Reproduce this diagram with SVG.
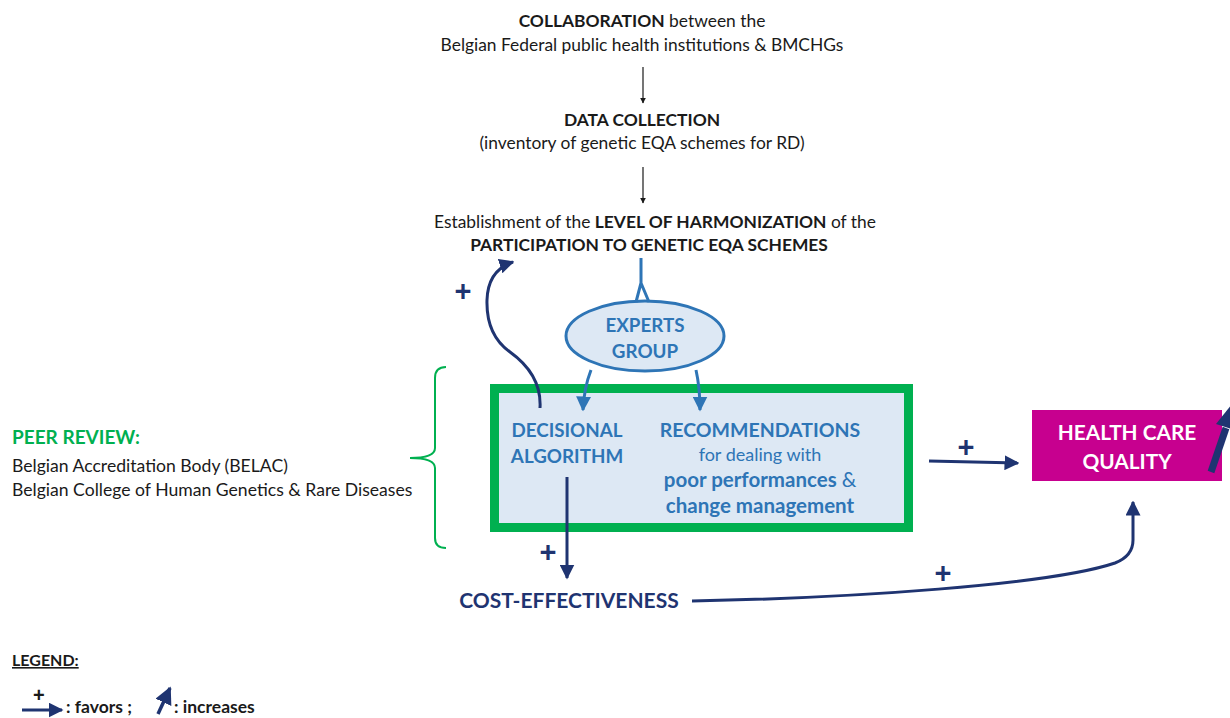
<svg xmlns="http://www.w3.org/2000/svg" width="1230" height="718" viewBox="0 0 1230 718">
<defs>
<style>
text{font-family:Lato,"Open Sans","Liberation Sans",sans-serif;}
.blk{fill:#1a1a1a;font-size:17.4px;}
.b{font-weight:bold;}
.blue{fill:#2e75b6;font-size:18.8px;font-weight:bold;}
.navy{fill:#1f3471;}
.plus{fill:#1f3471;font-size:29px;font-weight:bold;font-family:"Liberation Sans",Arial,sans-serif;}
.nv{stroke:#1f3471;stroke-width:3;fill:none;}
.bl{stroke:#2e75b6;stroke-width:3;fill:none;}
.thin{stroke:#1a1a1a;stroke-width:1.2;fill:none;}
</style>
<marker id="ah" viewBox="0 0 10 10" refX="9" refY="5" markerWidth="6" markerHeight="6" markerUnits="userSpaceOnUse" orient="auto"><path d="M0,0 L10,5 L0,10 z" fill="#1a1a1a"/></marker>
<marker id="an" viewBox="0 0 10 10" refX="9" refY="5" markerWidth="5" markerHeight="5" orient="auto"><path d="M0,0 L10,5 L0,10 z" fill="#1f3471"/></marker>
<marker id="ab" viewBox="0 0 10 10" refX="9" refY="5" markerWidth="5" markerHeight="5" orient="auto"><path d="M0,0 L10,5 L0,10 z" fill="#2e75b6"/></marker>
</defs>

<g id="collaboration">
<text class="blk" x="642" y="27" text-anchor="middle"><tspan class="b">COLLABORATION</tspan> between the</text>
<text class="blk" x="642" y="51" text-anchor="middle">Belgian Federal public health institutions &amp; BMCHGs</text>
</g>
<g id="data-collection">
<text class="blk b" x="642" y="126" text-anchor="middle">DATA COLLECTION</text>
<text class="blk" x="642" y="149" text-anchor="middle">(inventory of genetic EQA schemes for RD)</text>
</g>
<g id="harmonization">
<text class="blk" x="655" y="228" text-anchor="middle">Establishment of the <tspan class="b">LEVEL OF HARMONIZATION</tspan> of the</text>
<text class="blk b" x="649" y="251" text-anchor="middle">PARTICIPATION TO GENETIC EQA SCHEMES</text>
</g>
<g id="experts-group">
<ellipse cx="645" cy="336" rx="79" ry="35" fill="#dde8f4" stroke="#2e75b6" stroke-width="3"/>
<text class="blue" x="645" y="332" text-anchor="middle">EXPERTS</text>
<text class="blue" x="645" y="358" text-anchor="middle">GROUP</text>
</g>
<g id="main-box">
<rect x="494.5" y="388.5" width="414" height="139" fill="#dde8f4" stroke="#00b050" stroke-width="9"/>
<text class="blue" x="567" y="437" text-anchor="middle">DECISIONAL</text>
<text class="blue" x="567" y="463" text-anchor="middle">ALGORITHM</text>
<text class="blue" x="760" y="437" text-anchor="middle" style="font-size:19.5px">RECOMMENDATIONS</text>
<text class="blue" x="760" y="461" text-anchor="middle" style="font-weight:normal;font-size:18px">for dealing with</text>
<text class="blue" x="760" y="487" text-anchor="middle" style="font-size:20.5px">poor performances <tspan style="font-weight:normal">&amp;</tspan></text>
<text class="blue" x="760" y="513" text-anchor="middle" style="font-size:20.5px">change management</text>
</g>
<g id="peer-review">
<path d="M446,367 Q435,367 435,378 L435,448 Q435,458 410,458 Q435,458 435,468 L435,538 Q435,548 446,548" fill="none" stroke="#00b050" stroke-width="2"/>
<text x="12" y="444" style="fill:#00b050;font-size:19px;font-weight:bold">PEER REVIEW:</text>
<text class="blk" x="12" y="472" style="font-size:17.6px">Belgian Accreditation Body (BELAC)</text>
<text class="blk" x="12" y="496" style="font-size:17.6px">Belgian College of Human Genetics &amp; Rare Diseases</text>
</g>
<g id="cost-effectiveness">
<text class="navy b" x="569" y="608" text-anchor="middle" style="font-size:21px">COST-EFFECTIVENESS</text>
</g>
<g id="health-care-quality">
<rect x="1032" y="410" width="190" height="71" fill="#c7008f"/>
<text x="1127" y="440" text-anchor="middle" style="fill:#fff;font-size:20.8px;font-weight:bold">HEALTH CARE</text>
<text x="1127" y="469" text-anchor="middle" style="fill:#fff;font-size:20.8px;font-weight:bold">QUALITY</text>
<path d="M1211,472 L1226,428" stroke="#1f3471" stroke-width="7" fill="none"/>
<path d="M1216,424 L1232,404 L1235,430 z" fill="#1f3471"/>
</g>
<g id="legend">
<text x="12" y="666" style="fill:#1a1a1a;font-size:16px;font-weight:bold;text-decoration:underline">LEGEND:</text>
<text x="33" y="702" style="fill:#1a1a1a;font-size:20px;font-weight:bold;font-family:'Liberation Sans',sans-serif">+</text>
<path d="M22,710 L62,710" class="nv" marker-end="url(#an)"/>
<text x="66" y="713" style="fill:#1a1a1a;font-size:17.5px;font-weight:bold">: favors ;</text>
<path d="M158,714 L170,688" stroke="#1f3471" stroke-width="3.5" fill="none" marker-end="url(#an)"/>
<text x="174" y="713" style="fill:#1a1a1a;font-size:17.5px;font-weight:bold">: increases</text>
</g>
<g id="connectors">
<path d="M643,67 L643,103" class="thin" marker-end="url(#ah)"/>
<path d="M643,167 L643,203" class="thin" marker-end="url(#ah)"/>
<path d="M641,258 L641,283 L636,302 M641,283 L649,302" class="bl"/>
<path d="M591,370 Q584,388 583,410" class="bl" marker-end="url(#ab)"/>
<path d="M696,370 Q700,388 700,410" class="bl" marker-end="url(#ab)"/>
<path d="M540,408 Q542,375 510,352 Q486,335 487,300 Q488,270 513,262" class="nv" marker-end="url(#an)"/>
<text class="plus" x="463" y="301" text-anchor="middle">+</text>
<path d="M567,477 L567,578" class="nv" marker-end="url(#an)"/>
<text class="plus" x="548" y="562" text-anchor="middle">+</text>
<path d="M692,601 C850,598 1050,585 1115,563 Q1133,556 1133,540 L1133,502" class="nv" marker-end="url(#an)"/>
<text class="plus" x="943" y="583" text-anchor="middle">+</text>
<path d="M929,461 L1018,463" class="nv" marker-end="url(#an)"/>
<text class="plus" x="966" y="457" text-anchor="middle">+</text>
</g>
</svg>
